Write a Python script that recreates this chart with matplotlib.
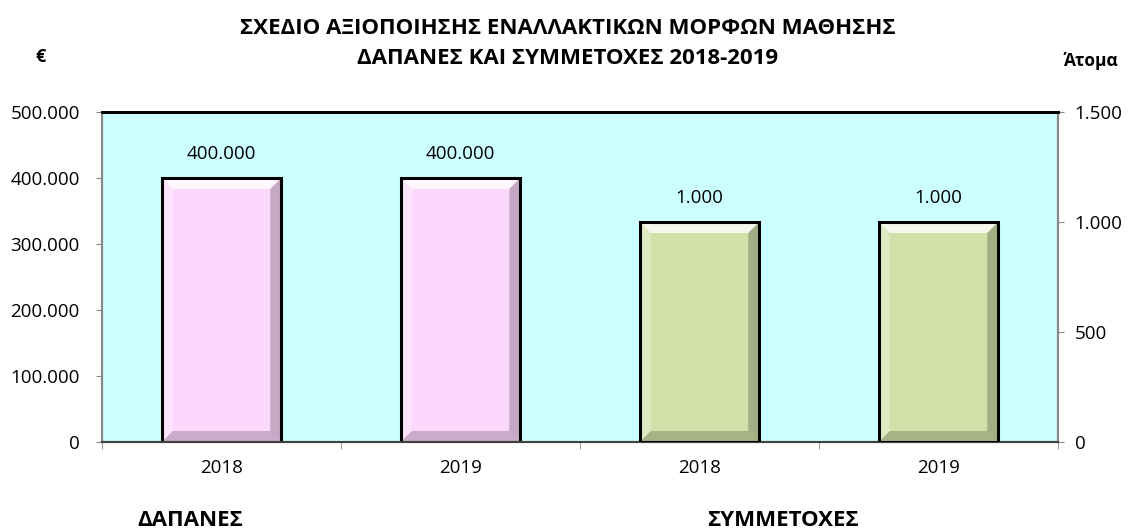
import matplotlib.pyplot as plt
from matplotlib.patches import Polygon

plt.rcParams['font.family'] = ['Open Sans', 'DejaVu Sans']

years = ['2018', '2019', '2018', '2019']
spend = [400000, 400000]        # € (left axis)
participants = [1000, 1000]     # persons (right axis)
spend_labels = ['400.000', '400.000']
part_labels = ['1.000', '1.000']
left_ticks = ['0', '100.000', '200.000', '300.000', '400.000', '500.000']
right_ticks = ['0', '500', '1.000', '1.500']

pink = '#fcd8fc'
green = '#d0e0a8'
fs = 13.5

fig = plt.figure(figsize=(11.29, 5.31), dpi=100)
ax = fig.add_axes([102 / 1129, 1 - 442 / 531, 956 / 1129, 330 / 531])
ax2 = ax.twinx()
ax.set_facecolor('#ccffff')

ax.set_xlim(-0.5, 3.5)
ax.set_ylim(0, 500000)
ax2.set_ylim(0, 1500)

w = 0.5
b1 = ax.bar([0, 1], spend, width=w, color=pink, edgecolor='none', zorder=3)
b2 = ax2.bar([2, 3], participants, width=w, color=green, edgecolor='none', zorder=3)


def bevel(axis, bars):
    # shaded edges to give each bar a raised look
    pos = axis.get_position()
    px_w = pos.width * fig.get_figwidth() * fig.dpi
    px_h = pos.height * fig.get_figheight() * fig.dpi
    y0, y1 = axis.get_ylim()
    dx = 11 * 4 / px_w
    dy = 11 * (y1 - y0) / px_h
    for r in bars:
        x, y, bw, bh = r.get_x(), r.get_y(), r.get_width(), r.get_height()
        x2, y2 = x + bw, y + bh
        faces = [
            ([(x, y2), (x2, y2), (x2 - dx, y2 - dy), (x + dx, y2 - dy)], 'white', 0.8),
            ([(x2, y2), (x2, y), (x2 - dx, y + dy), (x2 - dx, y2 - dy)], 'black', 0.22),
            ([(x, y), (x2, y), (x2 - dx, y + dy), (x + dx, y + dy)], 'black', 0.2),
            ([(x, y), (x, y2), (x + dx, y2 - dy), (x + dx, y + dy)], 'white', 0.3),
        ]
        for pts, c, a in faces:
            axis.add_patch(Polygon(pts, closed=True, facecolor=c, alpha=a,
                                   edgecolor='none', zorder=3.5))
        axis.add_patch(Polygon([(x, y), (x2, y), (x2, y2), (x, y2)], closed=True,
                               fill=False, edgecolor='black', linewidth=2.2, zorder=4))


bevel(ax, b1)
bevel(ax2, b2)

for r, t in zip(b1, spend_labels):
    ax.annotate(t, (r.get_x() + r.get_width() / 2, r.get_height()), xytext=(0, 17),
                textcoords='offset points', ha='center', va='center', fontsize=fs)
for r, t in zip(b2, part_labels):
    ax2.annotate(t, (r.get_x() + r.get_width() / 2, r.get_height()), xytext=(0, 17),
                 textcoords='offset points', ha='center', va='center', fontsize=fs)

ax.set_xticks([0, 1, 2, 3])
ax.set_xticklabels(years, fontsize=fs)
ax.set_xticks([-0.5, 0.5, 1.5, 2.5, 3.5], minor=True)
ax.tick_params(axis='x', which='major', length=0, pad=12)
ax.tick_params(axis='x', which='minor', length=5, color='#888888')

ax.set_yticks(range(0, 500001, 100000))
ax.set_yticklabels(left_ticks, fontsize=fs)
ax2.set_yticks([0, 500, 1000, 1500])
ax2.set_yticklabels(right_ticks, fontsize=fs)
ax.tick_params(axis='y', length=4, color='#888888', pad=12)
ax2.tick_params(axis='y', length=4, color='#888888', pad=8)

for a in (ax, ax2):
    a.spines['left'].set_color('#888888')
    a.spines['right'].set_color('#888888')
    a.spines['bottom'].set_color('#404040')
    a.spines['top'].set_color('black')
    a.spines['top'].set_linewidth(2)
    a.spines['bottom'].set_linewidth(1.5)
    a.spines['left'].set_linewidth(1.5)
    a.spines['right'].set_linewidth(1.5)

fig.text(568 / 1129, 1 - 28 / 531, 'ΣΧΕΔΙΟ ΑΞΙΟΠΟΙΗΣΗΣ ΕΝΑΛΛΑΚΤΙΚΩΝ ΜΟΡΦΩΝ ΜΑΘΗΣΗΣ',
         ha='center', va='center', fontsize=16, fontweight='bold')
fig.text(568 / 1129, 1 - 58 / 531, 'ΔΑΠΑΝΕΣ ΚΑΙ ΣΥΜΜΕΤΟΧΕΣ 2018-2019',
         ha='center', va='center', fontsize=16, fontweight='bold')
fig.text(41 / 1129, 1 - 57 / 531, '€', ha='center', va='center', fontsize=13, fontweight='bold')
fig.text(1091 / 1129, 1 - 61 / 531, 'Άτομα', ha='center', va='center', fontsize=12.5, fontweight='bold')
fig.text(190 / 1129, 1 - 521 / 531, 'ΔΑΠΑΝΕΣ', ha='center', va='center', fontsize=16, fontweight='bold')
fig.text(783 / 1129, 1 - 521 / 531, 'ΣΥΜΜΕΤΟΧΕΣ', ha='center', va='center', fontsize=16, fontweight='bold')

fig.savefig('out.png', dpi=100)
